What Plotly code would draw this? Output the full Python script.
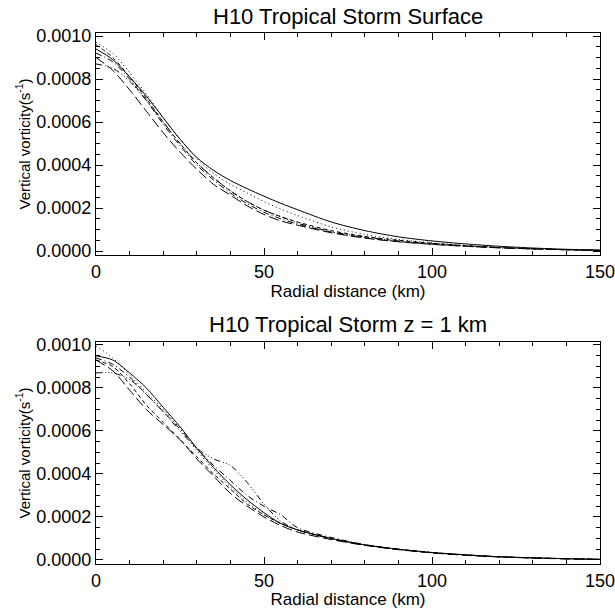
import plotly.graph_objects as go
from plotly.subplots import make_subplots

# Radial grid (km)
r = [0, 5, 10, 15, 20, 25, 30, 35, 40, 45, 50, 55, 60, 70, 80, 90, 100, 110, 120, 130, 140, 150]

# Top panel: surface
top_solid   = [0.00094, 0.00089, 0.00081, 0.00072, 0.00062, 0.00052, 0.000435, 0.000375, 0.000328, 0.00029, 0.000255, 0.000222, 0.000192, 0.000135, 0.000095, 0.000066, 0.000047, 0.000033, 0.000022, 0.000014, 0.000008, 0.000004]
top_dot     = [0.00097, 0.00092, 0.00083, 0.00073, 0.00062, 0.00052, 0.00043, 0.00036, 0.00031, 0.00027, 0.00023, 0.000195, 0.000165, 0.000112, 0.000077, 0.000054, 0.000038, 0.000026, 0.000017, 0.00001, 0.000006, 0.000003]
top_dash    = [0.00096, 0.00090, 0.00081, 0.00071, 0.00060, 0.00050, 0.00041, 0.00034, 0.00028, 0.00023, 0.00019, 0.00016, 0.000135, 0.000095, 0.000068, 0.00005, 0.000036, 0.000025, 0.000016, 0.00001, 0.000006, 0.000003]
top_ldash   = [0.00090, 0.00084, 0.00075, 0.00065, 0.00055, 0.00046, 0.00038, 0.00031, 0.00026, 0.00021, 0.00017, 0.00014, 0.00012, 0.000085, 0.00006, 0.000043, 0.000031, 0.000022, 0.000015, 0.00001, 0.000006, 0.000003]
top_dashdot = [0.00092, 0.00088, 0.00080, 0.00070, 0.00059, 0.00049, 0.00040, 0.00033, 0.00027, 0.00022, 0.00018, 0.00015, 0.000125, 0.000088, 0.000062, 0.000044, 0.000032, 0.000022, 0.000015, 0.00001, 0.000006, 0.000003]
top_dd3     = [0.00087, 0.00085, 0.00079, 0.00070, 0.00060, 0.00050, 0.00041, 0.00034, 0.00028, 0.00023, 0.00019, 0.00016, 0.00013, 0.00009, 0.000065, 0.000047, 0.000034, 0.000024, 0.000016, 0.00001, 0.000006, 0.000003]

# Bottom panel: z = 1 km
bot_solid   = [0.00095, 0.00093, 0.00087, 0.00080, 0.00071, 0.00062, 0.00052, 0.00043, 0.00035, 0.00028, 0.00022, 0.00017, 0.00014, 0.00010, 0.00007, 0.00005, 0.000035, 0.000024, 0.000015, 0.00001, 0.000006, 0.000003]
bot_dot     = [0.000995, 0.00094, 0.00086, 0.00078, 0.00070, 0.00061, 0.00051, 0.00042, 0.00034, 0.00027, 0.00021, 0.00017, 0.00014, 0.0001, 0.00007, 0.00005, 0.000035, 0.000024, 0.000015, 0.00001, 0.000006, 0.000003]
bot_dash    = [0.00093, 0.00090, 0.00082, 0.00072, 0.00064, 0.00056, 0.00048, 0.00040, 0.00033, 0.00026, 0.00021, 0.00017, 0.00014, 0.0001, 0.00007, 0.00005, 0.000034, 0.000023, 0.000015, 0.00001, 0.000006, 0.000003]
bot_ldash   = [0.00093, 0.00088, 0.00079, 0.00070, 0.00063, 0.00056, 0.00047, 0.00039, 0.00031, 0.00025, 0.00020, 0.00016, 0.00013, 0.000095, 0.000068, 0.000048, 0.000033, 0.000022, 0.000014, 0.000009, 0.000005, 0.000003]
bot_dashdot = [0.00094, 0.00091, 0.00085, 0.00077, 0.00069, 0.00061, 0.00052, 0.00044, 0.00037, 0.00030, 0.00025, 0.00021, 0.00015, 0.000105, 0.000072, 0.00005, 0.000035, 0.000024, 0.000015, 0.00001, 0.000006, 0.000003]
bot_dd3     = [0.00087, 0.00087, 0.00084, 0.00077, 0.00069, 0.00060, 0.00052, 0.00047, 0.00044, 0.00036, 0.00026, 0.00018, 0.00014, 0.0001, 0.00007, 0.00005, 0.000034, 0.000023, 0.000015, 0.00001, 0.000006, 0.000003]

titles = ["H10 Tropical Storm Surface", "H10 Tropical Storm z = 1 km"]
x_label = "Radial distance (km)"
y_label = "Vertical vorticity(s<sup>-1</sup>)"

styles = [
    ("solid", "solid"),
    ("dot", "1px,3px"),
    ("dash", "4px,3px"),
    ("ldash", "10px,4px"),
    ("dashdot", "6px,3px,1px,3px"),
    ("dd3", "6px,3px,1px,2px,1px,2px,1px,3px"),
]

top = [top_solid, top_dot, top_dash, top_ldash, top_dashdot, top_dd3]
bot = [bot_solid, bot_dot, bot_dash, bot_ldash, bot_dashdot, bot_dd3]

fig = make_subplots(rows=2, cols=1, vertical_spacing=0.0)

for row, series in ((1, top), (2, bot)):
    for (name, dash), ys in zip(styles, series):
        fig.add_trace(go.Scatter(x=r, y=ys, mode="lines", name=name,
                                 line=dict(color="black", width=1, dash=dash, shape="spline", smoothing=0.8),
                                 showlegend=False), row=row, col=1)

font = "Liberation Sans, Arial, Helvetica, sans-serif"
axis_common = dict(showline=True, linecolor="black", linewidth=1, mirror="allticks",
                   ticks="inside", tickcolor="black", ticklen=7, tickwidth=1,
                   showgrid=False, zeroline=False, automargin=False,
                   ticklabeloverflow="allow",
                   tickfont=dict(family=font, size=18, color="black"))

fig.update_layout(
    template="none",
    width=615, height=609,
    margin=dict(l=96, r=15, t=33, b=45),
    plot_bgcolor="white", paper_bgcolor="white",
    font=dict(family=font, color="black"),
)

yrange = [-0.0000186, 0.001014]
top_dom = [0.5819, 1]
bot_dom = [0, 0.4181]

xmin = dict(ticks="inside", dtick=10, ticklen=4, tickcolor="black", showgrid=False)
ymin = dict(ticks="inside", dtick=0.00005, ticklen=4, tickcolor="black", showgrid=False)
xt = dict(text=x_label, font=dict(family=font, size=17), standoff=0)
yt = dict(text=y_label, font=dict(family=font, size=15), standoff=2)

fig.update_layout(
    xaxis=dict(domain=[0, 1], range=[0, 150], dtick=50, anchor="y", minor=xmin, title=xt, **axis_common),
    yaxis=dict(domain=top_dom, range=yrange, dtick=0.0002, tickformat=".4f",
               anchor="x", minor=ymin, title=yt, **axis_common),
    xaxis2=dict(domain=[0, 1], range=[0, 150], dtick=50, anchor="y2", minor=xmin, title=xt, **axis_common),
    yaxis2=dict(domain=bot_dom, range=yrange, dtick=0.0002, tickformat=".4f",
                anchor="x2", minor=ymin, title=yt, **axis_common),
)

fig.add_annotation(text=titles[0], xref="paper", yref="paper", x=0.5, y=top_dom[1], yshift=2,
                   xanchor="center", yanchor="bottom", showarrow=False,
                   font=dict(family=font, size=22, color="black"))
fig.add_annotation(text=titles[1], xref="paper", yref="paper", x=0.5, y=bot_dom[1], yshift=3,
                   xanchor="center", yanchor="bottom", showarrow=False,
                   font=dict(family=font, size=22, color="black"))

fig.write_html("out.html")
